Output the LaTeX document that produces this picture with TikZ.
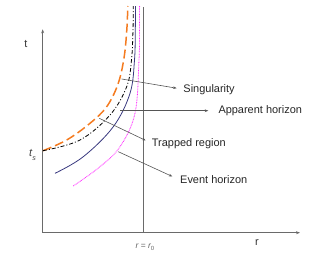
\documentclass[tikz,border=0pt]{standalone}
\usepackage{fontspec}
\setmainfont{Liberation Sans}
\usetikzlibrary{arrows.meta}
\definecolor{axisgray}{HTML}{6A6A6A}
\definecolor{conngray}{HTML}{555555}
\definecolor{orng}{HTML}{F47B20}
\definecolor{navy}{HTML}{3A3A80}
\definecolor{mag}{HTML}{FF22FF}
\tikzset{
  axis/.style={draw=axisgray, line width=0.7bp, -{Stealth[length=4bp,width=3bp]}},
  conn/.style={draw=conngray, line width=0.6bp, -{Stealth[length=3.5bp,width=2.6bp]}},
  lbl/.style={anchor=west, inner sep=0pt, font=\fontsize{11}{13}\selectfont, text=black!85},
  sing/.style={draw=orng, line width=1.5bp, dash pattern=on 9bp off 4bp},
  app/.style={draw=black, line width=0.8bp, dash pattern=on 4bp off 2bp on 1bp off 2bp},
  trap/.style={draw=navy, line width=0.8bp},
  evt/.style={draw=mag, line width=0.8bp, dash pattern=on 0.8bp off 0.8bp},
}
\begin{document}
\begin{tikzpicture}[x=1bp,y=-1bp]
\useasboundingbox (0,0) rectangle (331,260);
% axes
\coordinate (O) at (42.7,232.7);
\coordinate (ytop) at (42.7,29.3);
\coordinate (xend) at (300,232.7);
\draw[axis] (O) -- (ytop);
\draw[axis] (O) -- (xend);
\coordinate (r0b) at (143.3,232.7);
\coordinate (r0t) at (143.3,7);
\draw[axisgray, line width=0.7bp] (r0b) -- (r0t);
\node[font=\fontsize{11}{13}\selectfont, text=black!80] (tlab) at (26,44) {t};
\node[font=\fontsize{11}{13}\selectfont, text=black!80] (rlab) at (257,243) {r};
\node[font=\fontsize{11}{13}\selectfont\itshape, text=black!75] (ts) at (32.5,155) {t\raisebox{-0.6ex}{\fontsize{7}{8}\selectfont s}};
\node[font=\fontsize{8.5}{10}\selectfont, text=black!60] (r0lab) at (145,247) {\itshape r\upshape{} = \itshape r\raisebox{-0.4ex}{\fontsize{6}{7}\selectfont\upshape 0}};
% curves
\draw[sing] plot[smooth, tension=0.6] coordinates {(43,150.7) (66.7,140) (90,123.3) (106.7,106.7) (118,84) (124,58) (126.8,30) (127.8,6)};
\draw[app] plot[smooth, tension=0.6] coordinates {(43,150.7) (80,140) (110,115) (126.7,86.7) (131.5,60) (133,30) (133.3,6)};
\draw[trap] plot[smooth, tension=0.6] coordinates {(55,173.3) (83.3,156.7) (113.3,126.7) (130,93.3) (134.5,60) (135.3,30) (135.5,6)};
\draw[evt] plot[smooth, tension=0.6] coordinates {(73.3,186) (100,166.7) (120,146.7) (135,113.3) (139,60) (139.5,30) (139.6,6)};
% connector start points
\coordinate (s1) at (121.7,79);
\coordinate (s2) at (120,110.7);
\coordinate (s3) at (99.3,118.3);
\coordinate (s4) at (118.3,151.7);
% labels
\node[lbl] (L1) at (183.3,89.3) {Singularity};
\node[lbl] (L2) at (218.3,110.7) {Apparent horizon};
\node[lbl] (L3) at (151.7,143.3) {Trapped region};
\node[lbl] (L4) at (180,180) {Event horizon};
\draw[conn, shorten >=6.7bp] (s1) -- (L1.west);
\draw[conn, shorten >=10bp] (s2) -- (L2.west);
\draw[conn, shorten >=6.7bp] (s3) -- (L3.west);
\draw[conn, shorten >=8.5bp] (s4) -- (L4.west);
\end{tikzpicture}
\end{document}
